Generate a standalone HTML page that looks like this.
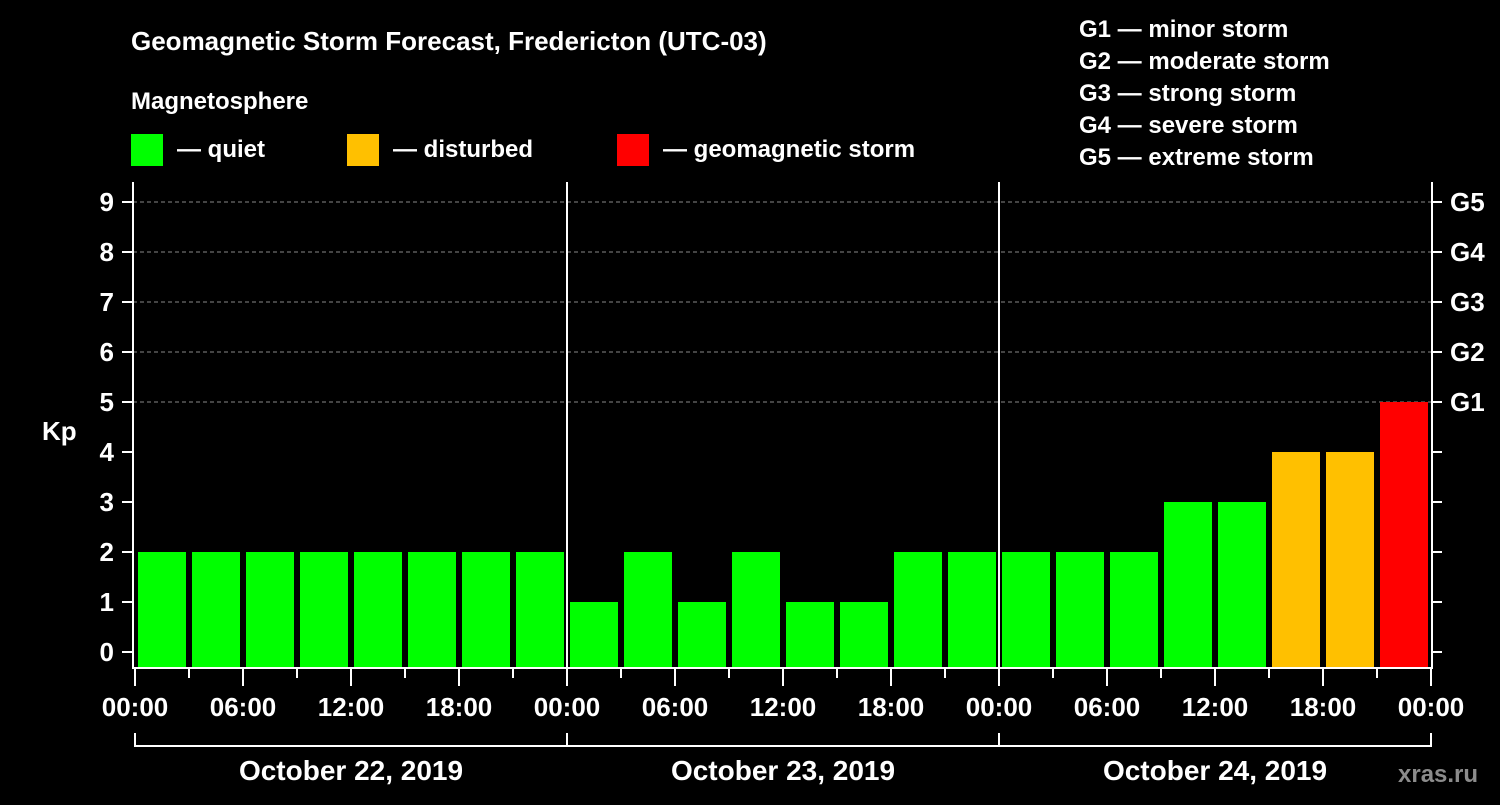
<!DOCTYPE html>
<html><head><meta charset="utf-8"><style>
body{margin:0;background:#000;}
svg text{font-family:"Liberation Sans",Arial,sans-serif;font-weight:bold;fill:#fff;}
</style></head><body>
<svg id="c" width="1500" height="800" viewBox="0 0 1500 800">
<rect width="1500" height="800" fill="#000"/>
<text x="131" y="50" font-size="26">Geomagnetic Storm Forecast, Fredericton (UTC-03)</text>
<text x="131" y="109" font-size="24">Magnetosphere</text>
<g><rect x="131" y="134" width="32" height="32" fill="#00ff00"/><text x="177" y="157" font-size="24">— quiet</text></g>
<g><rect x="347" y="134" width="32" height="32" fill="#ffc000"/><text x="393" y="157" font-size="24">— disturbed</text></g>
<g><rect x="617" y="134" width="32" height="32" fill="#ff0000"/><text x="663" y="157" font-size="24">— geomagnetic storm</text></g>
<g font-size="24">
<text x="1079" y="37">G1 — minor storm</text>
<text x="1079" y="69">G2 — moderate storm</text>
<text x="1079" y="101">G3 — strong storm</text>
<text x="1079" y="133">G4 — severe storm</text>
<text x="1079" y="165">G5 — extreme storm</text>
</g>
<text x="42" y="440" font-size="26">Kp</text>
<text x="1398" y="782" font-size="24" fill="#888" style="fill:#8c8c8c">xras.ru</text>
<g id="grid"></g><g id="bars"></g><g id="axes"></g>
</svg>
<script>
const values=[2,2,2,2,2,2,2,2, 1,2,1,2,1,1,2,2, 2,2,2,3,3,4,4,5];
const yTicks=[0,1,2,3,4,5,6,7,8,9];
const gLabels=["G1","G2","G3","G4","G5"];
const xTickLabels=["00:00","06:00","12:00","18:00","00:00","06:00","12:00","18:00","00:00","06:00","12:00","18:00","00:00"];
const days=["October 22, 2019","October 23, 2019","October 24, 2019"];
const NS="http://www.w3.org/2000/svg";
const X0=135,SLOT=54,Y0=652,UNIT=50,BOT=668,TOP=182,XR=1432;
const xs=i=>X0+i*SLOT, ys=v=>Y0-v*UNIT;
function mk(t,a,p){const e=document.createElementNS(NS,t);for(const k in a)e.setAttribute(k,a[k]);p.appendChild(e);return e;}
const grid=document.getElementById('grid'),bars=document.getElementById('bars'),axes=document.getElementById('axes');
yTicks.forEach(v=>{if(v>=5){const l=mk('line',{x1:133,x2:XR,y1:ys(v),y2:ys(v),stroke:'#888','stroke-dasharray':'4,3','stroke-width':1},grid);

}});
values.forEach((v,i)=>{const c=v>=5?'#ff0000':v>=4?'#ffc000':'#00ff00';
const r=mk('rect',{x:xs(i)+3,y:ys(v),width:SLOT-6,height:BOT-1-ys(v),fill:c},bars);

});
mk('line',{x1:133,x2:133,y1:TOP,y2:BOT+1,stroke:'#fff','stroke-width':2},axes);
mk('line',{x1:XR,x2:XR,y1:TOP,y2:BOT+1,stroke:'#fff','stroke-width':2},axes);
mk('line',{x1:132,x2:XR+1,y1:BOT,y2:BOT,stroke:'#fff','stroke-width':2},axes);
[1,2].forEach(d=>mk('line',{x1:xs(d*8),x2:xs(d*8),y1:TOP,y2:BOT,stroke:'#fff','stroke-width':2},axes));
yTicks.forEach(v=>{mk('line',{x1:122,x2:133,y1:ys(v),y2:ys(v),stroke:'#fff','stroke-width':2},axes);
mk('line',{x1:XR,x2:XR+10,y1:ys(v),y2:ys(v),stroke:'#fff','stroke-width':2},axes);
const t=mk('text',{x:114,y:ys(v)+9,'font-size':26,'text-anchor':'end'},axes);t.textContent=v;


if(v>=5){const g=mk('text',{x:1450,y:ys(v)+9,'font-size':26},axes);g.textContent=gLabels[v-5];

}});
for(let i=0;i<=24;i++){const maj=i%2==0;mk('line',{x1:xs(i),x2:xs(i),y1:BOT,y2:BOT+(maj?18:10),stroke:'#fff','stroke-width':2},axes);
if(maj){const t=mk('text',{x:xs(i),y:716,'font-size':26,'text-anchor':'middle'},axes);t.textContent=xTickLabels[i/2];

}}
mk('line',{x1:xs(0),x2:xs(24),y1:746,y2:746,stroke:'#fff','stroke-width':2},axes);
for(let d=0;d<=3;d++)mk('line',{x1:xs(d*8),x2:xs(d*8),y1:733,y2:747,stroke:'#fff','stroke-width':2},axes);
days.forEach((s,d)=>{const t=mk('text',{x:xs(d*8+4),y:780,'font-size':28,'text-anchor':'middle'},axes);t.textContent=s;

});
</script>
</body></html>
